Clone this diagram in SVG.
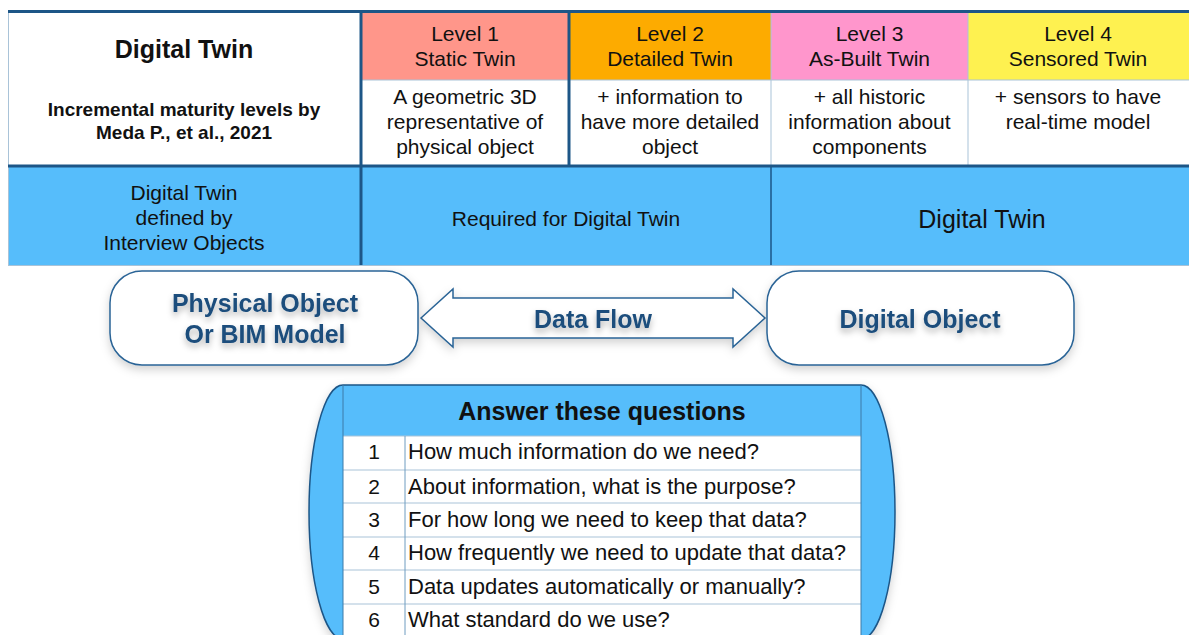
<svg xmlns="http://www.w3.org/2000/svg" width="1189" height="635" viewBox="0 0 1189 635">
<style>
  text { font-family: "Liberation Sans", Arial, sans-serif; fill: #111; text-anchor: middle; }
  .h { font-weight: bold; font-size: 25px; }
  .sub { font-weight: bold; font-size: 19px; }
  .t { font-size: 21px; }
  .big { font-size: 25px; }
  .obj { font-weight: bold; font-size: 25px; fill: #1b4d7c; filter: url(#tshadow); }
  .q { font-size: 22px; text-anchor: start; }
  .n { font-size: 21px; }
  .dark { stroke: #1d5687; fill: none; }
  .thin { stroke: #a9c3d8; stroke-width: 1; fill: none; }
  .box { fill: #fff; stroke: #2a6496; stroke-width: 1.5; filter: url(#shadow); }
</style>
<defs>
  <filter id="shadow" x="-20%" y="-30%" width="140%" height="170%">
    <feDropShadow dx="0" dy="4" stdDeviation="5" flood-color="#000" flood-opacity="0.18"/>
  </filter>
  <filter id="tshadow" x="-10%" y="-30%" width="120%" height="190%">
    <feDropShadow dx="0" dy="4" stdDeviation="3" flood-color="#000" flood-opacity="0.3"/>
  </filter>
</defs>
<rect width="1189" height="635" fill="#fff"/>

<!-- Top table -->
<g id="table">
  <rect x="361" y="11" width="208" height="69" fill="#ff968a"/>
  <rect x="569" y="11" width="202" height="69" fill="#fdab00"/>
  <rect x="771" y="11" width="197" height="69" fill="#ff96cc"/>
  <rect x="968" y="11" width="221" height="69" fill="#fef150"/>
  <rect x="8" y="166" width="1181" height="99" fill="#56bdfb"/>
  <line class="thin" x1="8.5" y1="11" x2="8.5" y2="265"/>
  <line class="thin" x1="361" y1="80" x2="1189" y2="80"/>
  <line class="thin" x1="771" y1="11" x2="771" y2="166"/>
  <line class="thin" x1="968" y1="11" x2="968" y2="166"/>
  <line class="thin" x1="8" y1="265.5" x2="1189" y2="265.5"/>
  <line class="dark" x1="361" y1="11" x2="361" y2="265" stroke-width="3"/>
  <line class="dark" x1="569" y1="11" x2="569" y2="166" stroke-width="3"/>
  <line class="dark" x1="771" y1="166" x2="771" y2="265" stroke-width="1.5"/>
  <line class="dark" x1="8" y1="11.5" x2="1189" y2="11.5" stroke-width="3"/>
  <line class="dark" x1="8" y1="166" x2="1189" y2="166" stroke-width="3"/>
</g>
<g id="title">
  <text class="h" x="184" y="58">Digital Twin</text>
  <text class="sub" x="184" y="116">Incremental maturity levels by</text>
  <text class="sub" x="184" y="139">Meda P., et al., 2021</text>
</g>
<g id="level1">
  <text class="t" x="465" y="41">Level 1</text>
  <text class="t" x="465" y="66">Static Twin</text>
  <text class="t" x="465" y="104">A geometric 3D</text>
  <text class="t" x="465" y="129">representative of</text>
  <text class="t" x="465" y="154">physical object</text>
</g>
<g id="level2">
  <text class="t" x="670" y="41">Level 2</text>
  <text class="t" x="670" y="66">Detailed Twin</text>
  <text class="t" x="670" y="104">+ information to</text>
  <text class="t" x="670" y="129">have more detailed</text>
  <text class="t" x="670" y="154">object</text>
</g>
<g id="level3">
  <text class="t" x="869.5" y="41">Level 3</text>
  <text class="t" x="869.5" y="66">As-Built Twin</text>
  <text class="t" x="869.5" y="104">+ all historic</text>
  <text class="t" x="869.5" y="129">information about</text>
  <text class="t" x="869.5" y="154">components</text>
</g>
<g id="level4">
  <text class="t" x="1078" y="41">Level 4</text>
  <text class="t" x="1078" y="66">Sensored Twin</text>
  <text class="t" x="1078" y="104">+ sensors to have</text>
  <text class="t" x="1078" y="129">real-time model</text>
</g>
<g id="defined">
  <text class="t" x="184" y="200">Digital Twin</text>
  <text class="t" x="184" y="225">defined by</text>
  <text class="t" x="184" y="250">Interview Objects</text>
</g>
<g id="required">
  <text class="t" x="566" y="226">Required for Digital Twin</text>
</g>
<g id="dtwin">
  <text class="big" x="982" y="228">Digital Twin</text>
</g>

<!-- Connector -->
<g id="connectors">
  <path d="M421,318 L453,289 L453,298 L733,298 L733,289 L765,318 L733,347 L733,338 L453,338 L453,347 Z" fill="#fff" stroke="#2a6496" stroke-width="1.5" filter="url(#shadow)"/>
  <text class="obj" x="593" y="328">Data Flow</text>
</g>

<g id="physical">
  <rect class="box" x="110" y="271" width="308" height="94" rx="32" ry="32"/>
  <text class="obj" x="265" y="312">Physical Object</text>
  <text class="obj" x="265" y="343">Or BIM Model</text>
</g>
<g id="digital">
  <rect class="box" x="767" y="271" width="307" height="94" rx="32" ry="32"/>
  <text class="obj" x="920" y="328">Digital Object</text>
</g>

<!-- Questions -->
<g id="questions">
  <path d="M343,385 H861 A34,127 0 0 1 861,639 H343 A34,127 0 0 1 343,385 Z" fill="#56bdfb" stroke="#1d5687" stroke-width="1.5" filter="url(#shadow)"/>
  <rect x="343" y="436" width="518" height="203" fill="#fff"/>
  <line class="thin" x1="343" y1="436" x2="861" y2="436"/>
  <line class="thin" x1="343" y1="470" x2="861" y2="470"/>
  <line class="thin" x1="343" y1="503" x2="861" y2="503"/>
  <line class="thin" x1="343" y1="537" x2="861" y2="537"/>
  <line class="thin" x1="343" y1="570" x2="861" y2="570"/>
  <line class="thin" x1="343" y1="604" x2="861" y2="604"/>
  <line x1="405" y1="436" x2="405" y2="639" stroke="#6f9cc0" stroke-width="1"/>
  <line x1="343" y1="385" x2="343" y2="639" stroke="#3d7aa8" stroke-width="1"/>
  <line x1="861" y1="385" x2="861" y2="639" stroke="#3d7aa8" stroke-width="1"/>
  <text class="h" x="602" y="420">Answer these questions</text>
  <text class="n" x="374" y="459">1</text>
  <text class="n" x="374" y="494">2</text>
  <text class="n" x="374" y="527">3</text>
  <text class="n" x="374" y="560">4</text>
  <text class="n" x="374" y="594">5</text>
  <text class="n" x="374" y="627">6</text>
  <text class="q" x="408" y="459">How much information do we need?</text>
  <text class="q" x="408" y="494">About information, what is the purpose?</text>
  <text class="q" x="408" y="527">For how long we need to keep that data?</text>
  <text class="q" x="408" y="560">How frequently we need to update that data?</text>
  <text class="q" x="408" y="594">Data updates automatically or manually?</text>
  <text class="q" x="408" y="627">What standard do we use?</text>
</g>
</svg>
